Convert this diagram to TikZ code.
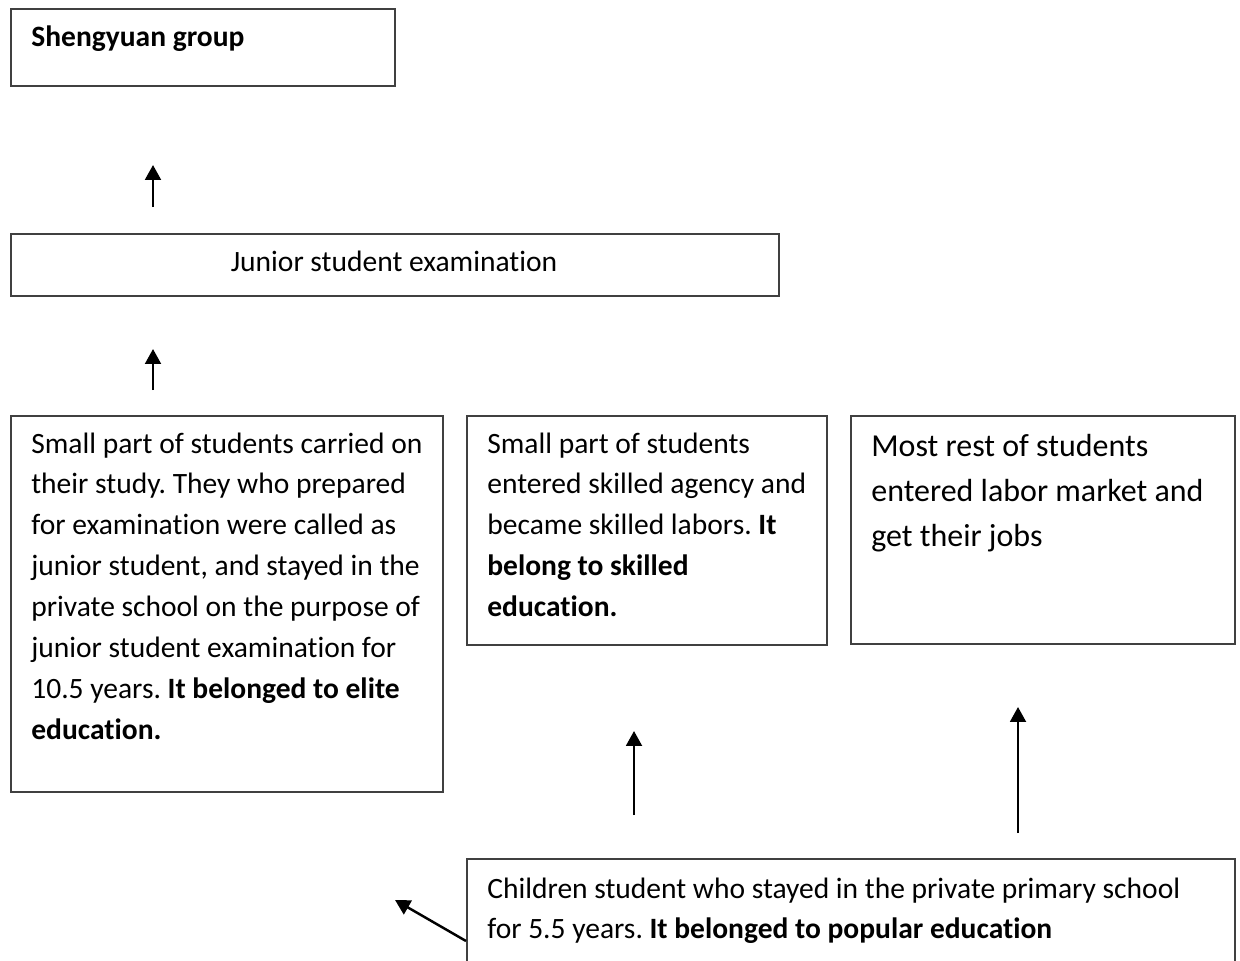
\documentclass[tikz,border=0pt]{standalone}
\usepackage{fontspec}
\setmainfont{Carlito}[Ligatures=NoCommon]
\frenchspacing
\usetikzlibrary{arrows.meta}
\definecolor{boxgray}{HTML}{404040}
\tikzset{
  box/.style={draw=boxgray, line width=1.1pt, inner sep=0pt, anchor=north west},
  txt/.style={inner sep=0pt, anchor=base west, align=left, font=\fontsize{16.8pt}{23.3pt}\selectfont,
    execute at begin node={\spaceskip=0pt\xspaceskip=0pt\relax}},
  bigtxt/.style={txt, font=\fontsize{18.2pt}{25.8pt}\selectfont},
  uparrow/.style={line width=1.4pt, -{Triangle[width=9pt,length=8.5pt]}}
}
\begin{document}
\begin{tikzpicture}[x=0.02cm,y=-0.02cm]
\useasboundingbox (0,0) rectangle (1240,960);
% boxes
\node[box, minimum width=7.68cm, minimum height=1.54cm] (sheng) at (10,8) {};
\node[box, minimum width=15.36cm, minimum height=1.24cm] (junior) at (10,233) {};
\node[box, minimum width=8.64cm, minimum height=7.52cm] (elite) at (10,415) {};
\node[box, minimum width=7.2cm, minimum height=4.58cm] (skilled) at (466,415) {};
\node[box, minimum width=7.68cm, minimum height=4.56cm] (labor) at (850,415) {};
\node[box, minimum width=15.36cm, minimum height=3cm] (children) at (466,858) {};
% texts
\node[txt, font=\fontsize{16.8pt}{23.3pt}\selectfont\bfseries] (shengtxt) at (31,46.7) {Shengyuan group};
\node[txt, anchor=base] (juniortxt) at (394,271.7) {Junior student examination};
\node[txt, text width=8.2cm] (elitetxt) at (31,453) {Small part of students carried on\\their study. They who prepared\\for examination were called as\\junior student, and stayed in the\\private school on the purpose of\\junior student examination for\\10.5 years. \textbf{It belonged to elite}\\\textbf{education.}};
\node[txt, text width=6.8cm] (skilledtxt) at (487,453) {Small part of students\\entered skilled agency and\\became skilled labors. \textbf{It}\\\textbf{belong to skilled}\\\textbf{education.}};
\node[bigtxt, text width=7.3cm] (labortxt) at (871,456) {Most rest of students\\entered labor market and\\get their jobs};
\node[txt, text width=14.9cm] (childrentxt) at (487,898) {Children student who stayed in the private primary school\\for 5.5 years. \textbf{It belonged to popular education}};
% arrow end points
\coordinate (a1s) at (153,207); \coordinate (a1e) at (153,165);
\coordinate (a2s) at (153,390); \coordinate (a2e) at (153,349);
\coordinate (a3s) at (634,815); \coordinate (a3e) at (634,731);
\coordinate (a4s) at (1018,833); \coordinate (a4e) at (1018,707);
\coordinate (a5s) at (466,941); \coordinate (a5e) at (395,900);
\draw[uparrow] (a1s) -- (a1e);
\draw[uparrow] (a2s) -- (a2e);
\draw[uparrow] (a3s) -- (a3e);
\draw[uparrow] (a4s) -- (a4e);
\draw[uparrow] (a5s) -- (a5e);
\end{tikzpicture}
\end{document}
